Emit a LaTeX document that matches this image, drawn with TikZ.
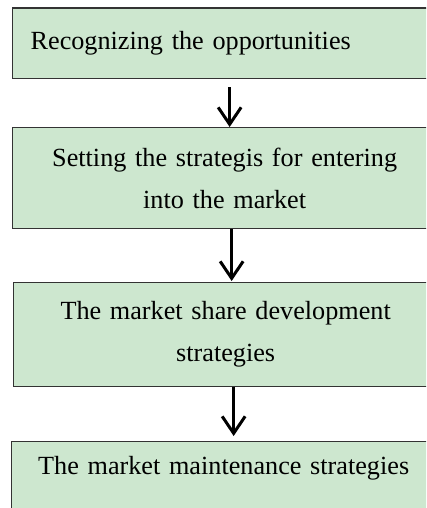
\documentclass[tikz,border=0pt]{standalone}
\usepackage{fontspec}
\setmainfont{Liberation Serif}
\usetikzlibrary{arrows.meta}
\definecolor{stagegreen}{RGB}{205,231,207}
\tikzset{
  stage/.style={draw=black!80, line width=1.3pt, fill=stagegreen, anchor=north west,
    text width=378pt, align=center, inner xsep=23pt, inner ysep=0pt,
    font=\fontsize{26.2}{42}\selectfont},
  flow/.style={line width=3pt, -{Straight Barb[length=17pt,width=23pt]}}
}
\begin{document}
\begin{tikzpicture}[x=1pt, y=-1pt]
    \clip (0,0) rectangle (426,508);
    \node[stage, minimum height=70.5pt, align=left, inner xsep=18pt, text width=388pt] (recog) at (12,7.5) {Recognizing the opportunities};
    \node[stage, minimum height=101pt] (entry) at (12,127) {Setting the strategis for entering\\into the market};
    \node[stage, minimum height=104pt] (develop) at (13,282) {The market share development\\strategies};
    \node[stage, inner ysep=15pt, text depth=60pt] (maintain) at (11,441) {The market maintenance strategies};
    \draw[flow] ([xshift=5pt, yshift=-8pt]recog.south) -- ([xshift=5pt]entry.north);
    \draw[flow] ([xshift=7pt]entry.south) -- ([xshift=6pt, yshift=1pt]develop.north);
    \draw[flow] ([xshift=8pt]develop.south) -- ([xshift=10pt, yshift=5pt]maintain.north);
\end{tikzpicture}
\end{document}
